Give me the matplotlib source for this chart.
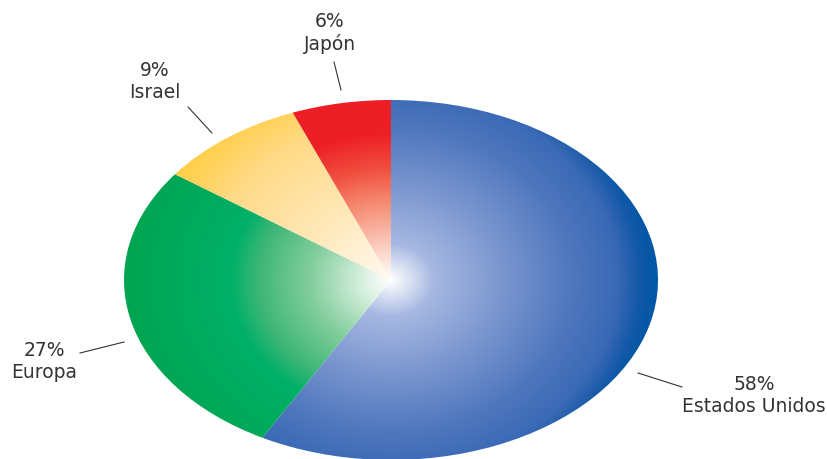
import numpy as np
import matplotlib
matplotlib.use("Agg")
import matplotlib.pyplot as plt
from matplotlib.colors import LinearSegmentedColormap

paises = ["Estados Unidos", "Europa", "Israel", "Japón"]
valores = [58, 27, 9, 6]

# gradiente radial de cada porcion (blanco en el centro)
gradientes = [
    [(0.0, "#ffffff"), (0.05, "#e4e9f6"), (0.16, "#a6b8e2"), (0.45, "#7592cd"),
     (0.68, "#4f77be"), (0.85, "#3a69b5"), (0.94, "#1058a8"), (1.0, "#0057a6")],
    [(0.0, "#ffffff"), (0.1, "#dcf1e2"), (0.3, "#84ce9e"), (0.5, "#3cb676"),
     (0.6, "#00b068"), (1.0, "#00a551")],
    [(0.0, "#fffaf0"), (0.35, "#ffe8b8"), (0.7, "#ffda86"), (0.9, "#ffcf4c"), (1.0, "#ffcc44")],
    [(0.0, "#ffffff"), (0.12, "#fcd8ce"), (0.35, "#f58a70"), (0.5, "#f04e3e"),
     (0.65, "#ed2026"), (1.0, "#ed1c24")],
]

W, H = 827, 459
fig = plt.figure(figsize=(W / 100, H / 100), dpi=100)

# caja de la elipse en pixeles
cx, cy, rx, ry = 391, 280, 267, 180
ax = fig.add_axes([(cx - rx) / W, (H - cy - ry) / H, 2 * rx / W, 2 * ry / H])

wedges, _ = ax.pie(valores, startangle=90, counterclock=False, radius=1,
                   wedgeprops=dict(linewidth=0))
ax.set_aspect("auto")
ax.set_xlim(-1, 1)
ax.set_ylim(-1, 1)
ax.axis("off")

# gradiente casi circular en pixeles
n = 600
xx, yy = np.meshgrid(np.linspace(-1, 1, n), np.linspace(-1, 1, n))
rr = np.clip(np.sqrt(xx ** 2 + (yy * 0.8) ** 2), 0, 1)
for w, stops in zip(wedges, gradientes):
    cmap = LinearSegmentedColormap.from_list("g", stops)
    w.set_facecolor("none")
    im = ax.imshow(cmap(rr), extent=[-1, 1, -1, 1], origin="lower",
                   aspect="auto", interpolation="bilinear")
    im.set_clip_path(w)

# etiquetas con lineas guia (coordenadas en pixeles de la figura)
pos_texto = [(754, 396), (44, 362), (155, 82), (330, 33)]
guias = [((638, 373), (682, 387)), ((80, 353), (124, 342)),
         ((188, 107), (212, 133)), ((334, 62), (341, 90))]
for p, v, (tx, ty), (a, b) in zip(paises, valores, pos_texto, guias):
    fig.text(tx / W, 1 - ty / H, f"{v}%\n{p}", ha="center", va="center",
             fontsize=13.5, family="DejaVu Sans", color="#333333", linespacing=1.2)
    fig.add_artist(plt.Line2D([a[0] / W, b[0] / W], [1 - a[1] / H, 1 - b[1] / H],
                              color="#333333", lw=0.8))

fig.savefig("out.png", dpi=100)
